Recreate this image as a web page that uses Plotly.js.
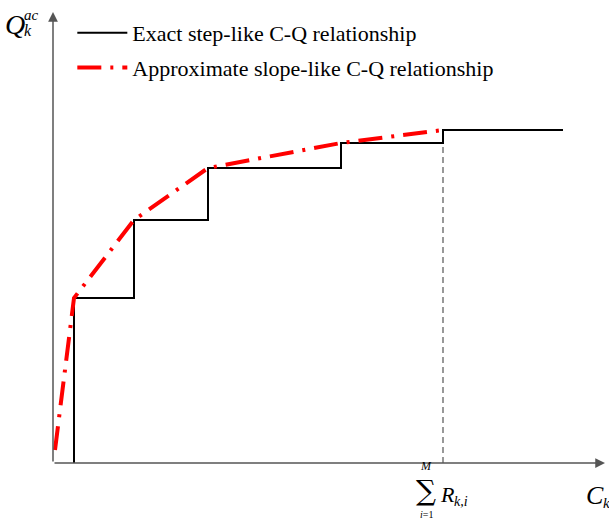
<!DOCTYPE html>
<html><head><meta charset="utf-8">
<script src="https://cdn.plot.ly/plotly-3.0.1.min.js"></script>
<style>html,body{margin:0;padding:0;background:#fff}</style>
</head><body>
<div id="chart" style="width:609px;height:520px"></div>
<script>
// Exact step-like C-Q relationship (vh step points)
var stepC = [2.1, 8.1, 15.5, 28.8, 39.0, 51.0];
var stepQ = [0, 16.5, 24.3, 29.5, 32.0, 33.3];
// Approximate slope-like C-Q relationship
var slopeC = [0.2, 2.1, 8.1, 15.5, 28.8, 39.0];
var slopeQ = [1.3, 16.5, 24.3, 29.5, 32.0, 33.3];
// Total capacity marker (sum of R_k,i)
var totalC = 39.0;
var totalQTop = 32.0;

var serif = "Liberation Serif, Times New Roman, serif";
var xMax = 55.2, yMax = 45.1;

// pixel -> paper helpers for label placement (plot area: left 53, width 552, top 12, height 451)
function px(x) { return (x - 53) / 552; }
function py(y) { return (463 - y) / 451; }
function lab(x, y, text, size, fam) {
  return {x: px(x), y: py(y), xref: 'paper', yref: 'paper', text: text, showarrow: false,
          xanchor: 'center', yanchor: 'middle', font: {family: fam || serif, size: size, color: '#000'}};
}

var traces = [
  {x: stepC, y: stepQ, mode: 'lines', line: {shape: 'vh', color: '#000', width: 2},
   name: 'Exact step-like C-Q relationship', legendgroup: 'a', hoverinfo: 'skip'},
  {x: slopeC, y: slopeQ, mode: 'lines', line: {color: '#ff0000', width: 4, dash: '24px,9px,3px,9px'},
   name: 'Approximate slope-like C-Q relationship', legendgroup: 'b', hoverinfo: 'skip'},
  {x: [totalC, totalC], y: [0, totalQTop], mode: 'lines', line: {color: '#777', width: 1.5, dash: '6px,4px'},
   showlegend: false, hoverinfo: 'skip'}
];

var layout = {
  width: 609, height: 520,
  margin: {l: 53, r: 4, t: 12, b: 57},
  paper_bgcolor: '#fff', plot_bgcolor: '#fff',
  xaxis: {range: [0, xMax], visible: false, fixedrange: true},
  yaxis: {range: [0, yMax], visible: false, fixedrange: true},
  showlegend: true,
  legend: {x: 0.035, y: 1.0, xanchor: 'left', yanchor: 'top', bgcolor: 'rgba(0,0,0,0)',
           font: {family: serif, size: 22, color: '#000'}, traceorder: 'grouped', tracegroupgap: 3,
           itemwidth: 50},
  annotations: [
    // axes with arrows
    {x: xMax, y: 0, ax: 0, ay: 0, axref: 'x', ayref: 'y', xref: 'x', yref: 'y', text: '',
     showarrow: true, arrowhead: 2, arrowsize: 1.3, arrowwidth: 1.5, arrowcolor: '#555', standoff: 0},
    {x: 0, y: yMax, ax: 0, ay: 0, axref: 'x', ayref: 'y', xref: 'x', yref: 'y', text: '',
     showarrow: true, arrowhead: 2, arrowsize: 1.3, arrowwidth: 1.5, arrowcolor: '#555', standoff: 0},
    // y-axis label Q_k^ac
    lab(15, 24, '<i>Q</i>', 28),
    lab(31, 15, '<i>ac</i>', 15),
    lab(28, 31, '<i>k</i>', 16),
    // x-axis label C_k
    lab(595, 495, '<i>C</i>', 26),
    lab(606, 503, '<i>k</i>', 15),
    // sum label
    lab(426, 491, '\u2211', 28, 'DejaVu Serif'),
    lab(426, 466, '<i>M</i>', 12),
    lab(426, 514, '<i>i</i>=1', 10),
    lab(447, 494, '<i>R</i>', 22),
    lab(461, 501, '<i>k,i</i>', 14)
  ]
};

Plotly.newPlot('chart', traces, layout, {displayModeBar: false, staticPlot: true});
</script>
</body></html>
